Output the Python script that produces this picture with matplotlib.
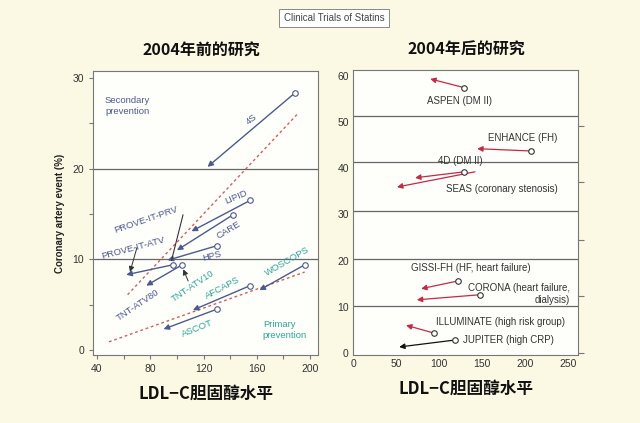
import matplotlib
matplotlib.use("Agg")
import matplotlib.pyplot as plt

# ---------------------------------------------------------------------------
# Data (LDL-C mg/dL vs coronary event %)
# ---------------------------------------------------------------------------

# left panel: trials before 2004 (circle = control arm, arrow = statin arm)
left_trials    = ["4S", "LIPID", "CARE", "HPS", "PROVE-IT", "TNT",
                  "WOSCOPS", "AFCAPS", "ASCOT"]
left_ldl_start = [189, 155, 142, 130, 97, 104, 196, 155, 130]
left_evt_start = [28.4, 16.5, 14.9, 11.5, 9.4, 9.4, 9.4, 7.1, 4.5]
left_ldl_end   = [123, 111, 100, 93, 62, 77, 162, 112, 90]
left_evt_end   = [20.2, 13.1, 11.0, 9.9, 8.3, 7.1, 6.6, 4.4, 2.3]

# dashed trend lines
sec_trend_ldl = [63, 191]
sec_trend_evt = [6.1, 26.1]
pri_trend_ldl = [49, 196]
pri_trend_evt = [0.9, 8.6]

left_hlines = [10, 20]

# right panel: trials after 2004
right_trials    = ["ASPEN", "ENHANCE", "4D", "SEAS", "GISSI-HF",
                   "CORONA", "ILLUMINATE", "JUPITER"]
right_ldl_start = [129, 206.5, 129, 141.5, 122, 147, 94, 118]
right_evt_start = [57.4, 43.7, 39.2, 39.2, 15.6, 12.6, 4.3, 2.8]
right_ldl_end   = [89.5, 144, 72, 51, 79, 74, 61.5, 53.5]
right_evt_end   = [59.3, 44.2, 37.9, 35.9, 13.9, 11.5, 6.0, 1.3]
right_has_circle = [True, True, True, False, True, True, True, True]

right_hlines = [10.2, 20.3, 30.7, 41.3, 51.3]

# colours
BG      = "#fbf9e4"
PANEL   = "#fefefb"
NAVY    = "#4d5a8c"
TEAL    = "#2fa596"
RED     = "#c22a45"
DASH    = "#d0605a"
FRAME   = "#777777"
TEXT    = "#333333"

LATIN = ["Liberation Sans", "DejaVu Sans"]
CJK   = ["Noto Sans CJK SC", "DejaVu Sans"]

plt.rcParams["font.family"] = LATIN

fig = plt.figure(figsize=(6.4, 4.23), dpi=100)
fig.patch.set_facecolor(BG)

axL = fig.add_axes([0.1453, 0.1608, 0.3516, 0.671])
axR = fig.add_axes([0.5516, 0.1608, 0.3516, 0.674])


def arrow(ax, x0, y0, x1, y1, color, lw=1.0):
    ax.annotate("", xy=(x1, y1), xytext=(x0, y0),
                arrowprops=dict(arrowstyle="-|>", color=color, lw=lw,
                                mutation_scale=8, shrinkA=0, shrinkB=0),
                zorder=3)


# ─── left panel ─────────────────────────────────────────────────────────────
ax = axL
ax.set_facecolor(PANEL)
ax.set_xlim(37, 206)
ax.set_ylim(-0.55, 30.76)
for s in ax.spines.values():
    s.set_color(FRAME)
    s.set_linewidth(0.8)
ax.set_xticks(range(40, 201, 40))
ax.set_xticks(range(40, 201, 20), minor=True)
ax.set_yticks([0, 10, 20, 30])
ax.set_yticks(range(0, 31, 5), minor=True)
ax.tick_params(which="both", direction="out", length=3, width=0.8,
               color=FRAME, labelsize=7.5, labelcolor=TEXT)

for h in left_hlines:
    ax.axhline(h, color="#666666", lw=0.9, zorder=1)

ax.plot(sec_trend_ldl, sec_trend_evt, ls=(0, (2, 2)), color=DASH, lw=1.0, zorder=2)
ax.plot(pri_trend_ldl, pri_trend_evt, ls=(0, (2, 2)), color=DASH, lw=1.0, zorder=2)

for x0, y0, x1, y1 in zip(left_ldl_start, left_evt_start, left_ldl_end, left_evt_end):
    arrow(ax, x0, y0, x1, y1, NAVY)
ax.plot(left_ldl_start, left_evt_start, "o", ms=4, mfc="white",
        mec=NAVY, mew=0.8, ls="none", zorder=4)

# leader lines for the PROVE-IT / TNT labels
ax.plot([104.6, 96], [14.9, 9.9], color="#333333", lw=0.8, zorder=3)
arrow(ax, 70, 11.3, 64.8, 8.6, "#333333", lw=0.7)
arrow(ax, 108.5, 7.6, 104.8, 8.9, "#333333", lw=0.7)

navy_labels = [("4S", 156, 25.4, 40), ("LIPID", 144.5, 16.9, 23),
               ("CARE", 138.8, 13.2, 31), ("HPS", 126.5, 10.4, 15),
               ("PROVE-IT-PRV", 76.8, 14.4, 19), ("PROVE-IT-ATV", 67, 11.2, 15),
               ("TNT-ATV80", 71, 5.0, 34)]
teal_labels = [("TNT-ATV10", 112, 7.0, 34), ("AFCAPS", 134.5, 6.9, 28),
               ("WOSCOPS", 182.6, 9.8, 30), ("ASCOT", 115, 2.4, 22)]
for txt, x, y, r in navy_labels:
    ax.text(x, y, txt, rotation=r, ha="center", va="center",
            fontsize=6.8, color=NAVY, rotation_mode="anchor")
for txt, x, y, r in teal_labels:
    ax.text(x, y, txt, rotation=r, ha="center", va="center",
            fontsize=6.8, color=TEAL, rotation_mode="anchor")

ax.text(46, 28.0, "Secondary\nprevention", ha="left", va="top",
        fontsize=6.8, color=NAVY, linespacing=1.3)
ax.text(164.5, 3.3, "Primary\nprevention", ha="left", va="top",
        fontsize=6.8, color=TEAL, linespacing=1.3)

ax.set_ylabel("Coronary artery event (%)", fontsize=7, fontweight="bold",
              color="#222222", labelpad=5)
ax.set_xlabel("LDL−C胆固醇水平", fontsize=12, fontweight="bold",
              family=CJK, color="#111111", labelpad=8)

# ─── right panel ────────────────────────────────────────────────────────────
ax = axR
ax.set_facecolor(PANEL)
ax.set_xlim(0, 261)
ax.set_ylim(-0.43, 61.25)
for s in ax.spines.values():
    s.set_color(FRAME)
    s.set_linewidth(0.8)
ax.set_xticks(range(0, 251, 50))
ax.set_yticks(range(0, 61, 10))
ax.tick_params(length=0, labelsize=7.5, labelcolor=TEXT, pad=3)

axR2 = ax.twinx()
axR2.set_ylim(ax.get_ylim())
axR2.set_yticks([0, 12.3, 24.5, 37, 49.1])
axR2.tick_params(direction="out", length=4, width=0.8, color=FRAME,
                 labelright=False)
for s in axR2.spines.values():
    s.set_visible(False)

for h in right_hlines:
    ax.axhline(h, color="#666666", lw=0.9, zorder=1)

for i, (x0, y0, x1, y1) in enumerate(zip(right_ldl_start, right_evt_start,
                                         right_ldl_end, right_evt_end)):
    c = "#111111" if right_trials[i] == "JUPITER" else RED
    arrow(ax, x0, y0, x1, y1, c, lw=0.9)
    if right_has_circle[i]:
        ax.plot(x0, y0, "o", ms=4, mfc="white", mec="#333333", mew=0.8,
                zorder=4)

right_labels = [("ASPEN (DM II)", 124, 54.5, "center"),
                ("ENHANCE (FH)", 197, 46.5, "center"),
                ("4D (DM II)", 124, 41.6, "center"),
                ("SEAS (coronary stenosis)", 173, 35.5, "center"),
                ("GISSI-FH (HF, heart failure)", 137, 18.4, "center"),
                ("CORONA (heart failure,", 252, 14.0, "right"),
                ("dialysis)", 252, 11.4, "right"),
                ("ILLUMINATE (high risk group)", 170.5, 6.7, "center"),
                ("JUPITER (high CRP)", 127, 2.8, "left")]
for txt, x, y, ha in right_labels:
    ax.text(x, y, txt, ha=ha, va="center", fontsize=7, color=TEXT)

ax.set_xlabel("LDL−C胆固醇水平", fontsize=12, fontweight="bold",
              family=CJK, color="#111111", labelpad=8)

# panel titles
fig.text(201 / 640, 1 - 50 / 423, "2004年前的研究", ha="center", va="center",
         fontsize=11.5, fontweight="bold", family=CJK, color="#111111")
fig.text(466 / 640, 1 - 50 / 423, "2004年后的研究", ha="center", va="center",
         fontsize=11.5, fontweight="bold", family=CJK, color="#111111")

# header box
fig.text(334 / 640, 1 - 18 / 423, "Clinical Trials of Statins", ha="center",
         va="center", fontsize=7, color="#444444",
         bbox=dict(boxstyle="square,pad=0.45", facecolor="white",
                   edgecolor="#888888", linewidth=0.7))

fig.savefig("out.png", dpi=100, facecolor=BG)
